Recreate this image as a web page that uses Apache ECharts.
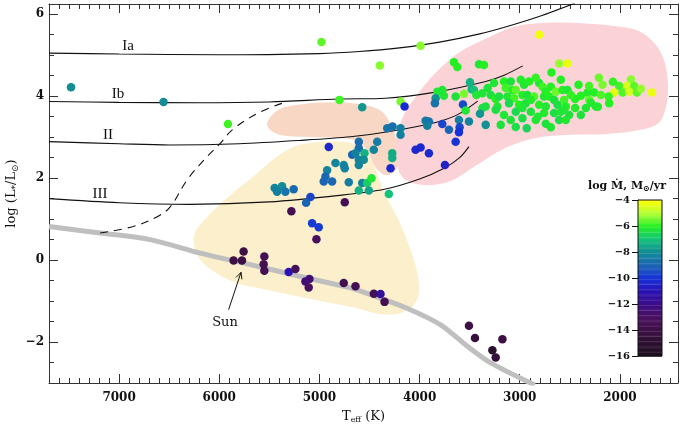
<!DOCTYPE html>
<html><head><meta charset="utf-8">
<script src="https://cdn.jsdelivr.net/npm/echarts@6/dist/echarts.min.js"></script>
<style>html,body{margin:0;padding:0;background:#fff}#c{width:690px;height:426px}</style>
</head><body><div id="c"></div>
<script>
// ---- data: [Teff (K), log L/Lsun, log Mdot] ----
const stars = [
 [7480,4.22,-8.0],[6557,3.86,-8.0],[5913,3.32,-5.8],[4980,5.32,-5.6],[4800,3.91,-5.8],
 [3990,5.23,-5.3],[4397,4.75,-5.3],[4573,3.73,-7.8],[4190,3.87,-5.4],[4150,3.75,-10.2],
 [4907,2.76,-10.3],[4607,2.89,-8.8],[4423,2.89,-8.4],[4607,2.73,-8.8],[4673,2.57,-9.0],
 [4550,2.61,-7.3],[4607,2.45,-8.2],[4557,2.45,-8.0],[4607,2.32,-8.2],[4457,2.69,-8.2],
 [4640,2.61,-8.3],[4273,2.61,-7.4],[4273,2.49,-7.4],[4290,2.24,-10.3],[4040,2.69,-10.3],
 [3990,2.75,-10.3],[4840,2.37,-8.2],[4757,2.32,-8.2],[4747,2.24,-8.3],[4923,2.19,-8.2],
 [4940,2.04,-8.9],[4957,1.92,-9.0],[4873,1.92,-9.0],[4707,1.90,-8.4],[4573,1.88,-8.2],
 [4523,1.88,-6.8],[4480,2.00,-6.2],[4607,1.70,-7.3],[4507,1.70,-7.6],[4307,1.61,-7.0],
 [5447,1.76,-8.2],[5373,1.80,-8.0],[5423,1.67,-8.3],[5340,1.67,-8.6],[5257,1.73,-8.8],
 [5090,1.54,-9.6],[5133,1.40,-9.0],[4747,1.41,-13.5],[5280,1.19,-13.5],[5073,0.90,-9.8],
 [5007,0.80,-9.8],[5030,0.51,-13.0],[5757,0.21,-14.0],[5857,-0.01,-14.0],[5773,-0.01,-14.0],
 [5550,0.09,-13.5],[5557,-0.10,-13.5],[5550,-0.26,-13.5],[5307,-0.29,-11.0],[5240,-0.22,-13.3],
 [5100,-0.46,-12.5],[5140,-0.52,-12.5],[5107,-0.67,-13.0],[4757,-0.56,-13.5],[4640,-0.64,-13.5],
 [4457,-0.82,-13.5],[4390,-0.83,-11.5],[4350,-1.02,-13.5],
 [3507,-1.60,-14.0],[3447,-1.90,-14.5],[3173,-1.93,-14.0],[3273,-2.20,-15.0],[3240,-2.38,-14.5],
 [4323,3.22,-8.6],[4270,3.26,-8.7],[4190,3.22,-8.3],[4190,3.06,-8.3],
 [3657,4.83,-6.0],[3623,4.71,-6.0],[3407,4.78,-6.2],[3357,4.76,-6.0],[3497,4.34,-7.3],
 [3480,4.17,-7.3],[3457,4.15,-7.0],[3823,4.11,-6.2],[3773,4.15,-6.2],[3757,4.01,-6.2],
 [3640,3.99,-6.3],[3557,4.06,-5.4],[3433,4.03,-6.2],[3373,4.07,-6.2],[3840,3.95,-7.9],
 [3847,3.83,-8.6],[3567,3.80,-9.5],[3540,3.65,-6.2],[3373,3.71,-6.4],[3397,3.57,-7.8],
 [3940,3.40,-8.4],[3907,3.38,-8.6],[3923,3.28,-8.3],[3773,3.32,-9.6],[3707,3.18,-9.0],
 [3607,3.42,-8.3],[3600,3.24,-9.6],[3607,3.12,-10.0],[3507,3.38,-8.2],[3340,3.30,-7.9],
 [3907,2.61,-10.3],[3640,2.89,-9.9],[3747,2.32,-10.5],
 [3257,4.32,-6.2],[3157,4.36,-6.0],[3090,4.36,-6.3],[3140,4.20,-5.8],[3073,4.15,-6.0],
 [3040,4.15,-5.6],[2957,4.28,-6.2],[2907,4.36,-6.0],[2807,4.32,-6.2],[2773,4.23,-5.8],
 [2690,4.23,-6.0],[2640,4.11,-5.5],[2573,4.15,-6.0],[2523,4.15,-6.2],[3290,4.03,-6.3],
 [3240,3.93,-6.0],[3207,3.99,-6.4],[3123,3.99,-6.2],[3057,3.95,-5.8],[2973,4.03,-6.0],
 [2923,4.03,-6.3],[2857,3.99,-5.7],[2757,3.99,-6.2],[2707,3.99,-6.0],[2657,3.91,-6.3],
 [2557,3.91,-5.8],[3340,3.75,-6.4],[3223,3.75,-6.2],[3107,3.83,-6.5],[3007,3.79,-6.0],
 [2940,3.83,-6.3],[2807,3.79,-6.0],[2740,3.75,-6.2],[2623,3.79,-6.4],[2540,3.75,-6.0],
 [3157,3.54,-6.2],[3040,3.62,-6.5],[2973,3.71,-6.2],[2890,3.62,-6.3],[2757,3.59,-6.1],
 [2657,3.59,-6.4],[2590,3.62,-6.2],[2507,3.54,-6.3],[3090,3.42,-6.3],[2973,3.46,-6.4],
 [2840,3.42,-6.2],[2607,3.42,-6.4],[2930,3.22,-6.6],[2690,3.24,-6.2],[2557,3.67,-6.2],
 [2807,5.50,-4.2],[2607,4.80,-5.2],[2523,4.80,-4.3],[2683,4.58,-6.0],
 [1890,4.41,-5.3],[2413,4.28,-6.0],[2173,4.28,-5.4],[2007,4.25,-5.8],[1930,4.25,-4.5],
 [1857,4.25,-5.6],[2057,4.09,-4.4],[1973,4.09,-5.7],[1907,4.11,-4.6],[1830,4.09,-5.6],
 [1680,4.09,-4.3],[2323,4.09,-6.1],[2257,4.09,-6.0],[2113,3.99,-5.9],[2107,3.83,-6.0],
 [2307,3.91,-5.6],[2290,3.84,-6.1],[2240,3.75,-6.2],[2447,3.93,-6.0],[2447,3.71,-6.1],
 [2540,3.42,-6.2],[2307,4.25,-5.8],
 [3190,3.30,-6.3],[3040,3.25,-6.4],[2820,3.50,-6.2],[2740,3.33,-6.3],[2390,3.54,-6.3],
 [2340,3.71,-6.2],[2220,3.74,-6.1],[2990,4.40,-6.1],[2840,4.45,-5.9],[2590,4.40,-6.0],
 [2490,4.03,-5.9],[2390,4.01,-6.0],[3320,4.20,-6.3],[3240,3.67,-6.4],[2890,3.91,-6.1],
 [2740,4.11,-6.0],[2190,4.03,-5.7],[1790,4.18,-5.2],[2070,4.35,-5.9],[2210,4.45,-5.5]
];
// luminosity-class tracks
const trackIa  = [[7700,5.05],[7000,5.03],[6000,5.01],[5000,5.04],[4600,5.09],[4200,5.18],[3800,5.32],[3400,5.52],[3100,5.72],[2800,5.95],[2450,6.27]];
const trackIb  = [[7700,3.87],[7000,3.85],[6200,3.84],[5500,3.86],[4800,3.93],[4340,3.95],[3840,4.10],[3340,4.36],[3150,4.52],[2970,4.74]];
const trackII  = [[7700,2.89],[7000,2.84],[6500,2.81],[5800,2.84],[5200,2.92],[4690,3.01],[4300,3.14],[3840,3.36],[3620,3.55],[3420,3.88]];
const trackIII = [[7700,1.50],[7000,1.40],[6300,1.36],[5500,1.42],[4800,1.58],[4350,1.73],[4000,1.98],[3750,2.25],[3600,2.50],[3507,2.77]];
const dashedTrack = [[7190,0.66],[6860,0.82],[6620,1.06],[6490,1.30],[6320,1.96],[6150,2.45],[5990,2.85],[5860,3.20],[5600,3.60],[5320,3.87]];
const mainSeq = [[7700,0.82],[7190,0.66],[6690,0.50],[6190,0.17],[5690,-0.11],[5190,-0.40],[4690,-0.68],[4460,-0.87],[4120,-1.18],[3790,-1.58],[3520,-2.11],[3290,-2.51],[2850,-3.05]];
// regions
const regionHot = [[6250,0.62],[6150,0.98],[5910,1.54],[5640,2.08],[5440,2.50],[5240,2.78],[4990,2.88],[4790,2.89],[4640,2.83],[4510,2.57],[4440,2.20],[4340,1.59],[4210,0.98],[4090,0.25],[4020,-0.36],[4010,-0.85],[4110,-1.21],[4340,-1.33],[4690,-1.14],[5190,-0.90],[5540,-0.72],[5860,-0.53],[6120,-0.16],[6230,0.18]];
const regionWarm = [[5520,3.37],[5400,3.68],[5190,3.80],[4890,3.85],[4640,3.82],[4410,3.68],[4310,3.42],[4240,3.01],[4200,2.52],[4230,2.22],[4330,2.07],[4440,2.26],[4510,2.62],[4610,2.89],[4790,2.98],[5190,3.01],[5400,3.06],[5500,3.20]];
const regionNone = [[4210,2.20],[4240,2.81],[4180,3.42],[4040,3.98],[3840,4.57],[3610,5.06],[3340,5.40],[3060,5.69],[2740,5.79],[2490,5.79],[2040,5.71],[1810,5.59],[1640,5.25],[1550,4.81],[1520,4.23],[1540,3.74],[1610,3.35],[1790,3.18],[2130,3.08],[2490,3.06],[2840,2.98],[3140,2.74],[3440,2.30],[3690,1.93],[3960,1.83],[4140,1.96]];
const sunArrow = [[5907,-1.21],[5783,-0.30]];
// tick values
const xMajor = [2000,3000,4000,5000,6000,7000];
const yMajor = [-2,0,2,4,6];
const cbMajor = [-16,-14,-12,-10,-8,-6,-4];
const xMinor = []; for (let t = 1500; t <= 7700; t += 100) xMinor.push(t);
const yMinor = []; for (let v = -2.5; v <= 6.01; v += 0.5) yMinor.push(+v.toFixed(1));
const cbBands = []; for (let v = -16; v < -4 - 1e-9; v += 0.2) cbBands.push([0.5, +(v + 0.1).toFixed(2), +(v + 0.1).toFixed(2)]);
const cmap = ['#1c0c20','#2c1030','#3d1045','#4a1060','#3c0c88','#2a12b4','#1630d8','#1a64b4','#128c96','#14c27a','#22f022','#b4ff34','#ffff00'];

const minus = v => (v < 0 ? '\u2212' + (-v) : '' + v);
const plain = v => '' + v;
const serifB = {fontFamily:'DejaVu Serif', fontWeight:'bold', fontSize:12, color:'#111'};
const AX = '#333';
const noZero = {onZero:false};

function blob(points, color){
  return {type:'custom', xAxisIndex:0, yAxisIndex:0, z:1, silent:true, data:[[4000,2]],
    renderItem:(p, api)=>({type:'polygon', shape:{points: points.map(q=>api.coord(q)), smooth:0.35},
      style:{fill:color}})};
}
function track(data, extra){
  return Object.assign({type:'line', xAxisIndex:0, yAxisIndex:0, data, showSymbol:false, symbol:'none', smooth:0.3, z:2,
    lineStyle:{color:'#111', width:1.1}, silent:true}, extra||{});
}
function xAx(pos, major, extra){
  return Object.assign({gridIndex:0, type:'value', inverse:true, min:1420, max:7700, position:pos,
    axisLine:{show:major, onZero:false, lineStyle:{color:AX, width:1}},
    axisTick:{show:true, inside:true, length:major?9:5, customValues:major?xMajor:xMinor, lineStyle:{color:AX}},
    axisLabel:{show:false}, splitLine:{show:false}}, extra||{});
}
function yAx(pos, major, extra){
  return Object.assign({gridIndex:0, type:'value', min:-3, max:6.25, position:pos,
    axisLine:{show:major, onZero:false, lineStyle:{color:AX, width:1}},
    axisTick:{show:true, inside:true, length:major?9:5, customValues:major?yMajor:yMinor, lineStyle:{color:AX}},
    axisLabel:{show:false}, splitLine:{show:false}}, extra||{});
}

const chart = echarts.init(document.getElementById('c'), null, {renderer:'canvas'});
const option = {
  animation:false,
  backgroundColor:'#fff',
  grid:[{left:49, right:12, top:4, bottom:43, containLabel:false, outerBoundsMode:'none'},
        {left:638, top:200, width:24, height:156, containLabel:false, outerBoundsMode:'none'}],
  xAxis:[
    xAx('bottom', true, {
     axisLabel:Object.assign({show:true, margin:9, interval:0, customValues:xMajor, formatter:plain}, serifB),
     name:'{a|T}{s|eff}{a| (K)}', nameLocation:'middle', nameGap:26, nameMoveOverlap:false,
     nameTextStyle:{rich:{a:{fontFamily:'DejaVu Serif', fontSize:13, color:'#111'},
                          s:{fontFamily:'DejaVu Serif', fontSize:8, color:'#111', padding:[7,0,0,0]}}}}),
    xAx('bottom', false),
    xAx('top', true),
    xAx('top', false),
    {gridIndex:1, type:'value', min:0, max:1, show:false, axisLine:noZero}
  ],
  yAxis:[
    yAx('left', true, {
     axisLabel:Object.assign({show:true, margin:5, interval:0, customValues:yMajor, formatter:minus}, serifB),
     name:'{a|log (L}{s|*}{a|/L}{s|\u2299}{a|)}', nameLocation:'middle', nameGap:29, nameRotate:90, nameMoveOverlap:false,
     nameTextStyle:{rich:{a:{fontFamily:'DejaVu Serif', fontSize:13, color:'#111'},
                          s:{fontFamily:'DejaVu Serif', fontSize:9, color:'#111', padding:[7,0,0,0]}}}}),
    yAx('left', false),
    yAx('right', true),
    yAx('right', false),
    {gridIndex:1, type:'value', min:-16, max:-4, position:'left',
     axisLine:{show:true, onZero:false, lineStyle:{color:'#111'}},
     axisTick:{show:true, inside:false, length:6, customValues:cbMajor, lineStyle:{color:'#111'}},
     axisLabel:{show:true, margin:8, interval:0, hideOverlap:false, customValues:cbMajor, formatter:minus,
       fontFamily:'DejaVu Serif', fontWeight:'bold', fontSize:10, color:'#111'},
     splitLine:{show:false}}
  ],
  visualMap:[{type:'continuous', show:false, min:-16, max:-4, dimension:2, seriesIndex:[10,11],
    inRange:{color:cmap}}],
  series:[
    blob(regionHot, '#fcefcb'),
    blob(regionWarm, '#f8d8c5'),
    blob(regionNone, '#fbd3d7'),
    track(trackIa), track(trackIb), track(trackII), track(trackIII),
    track(dashedTrack, {lineStyle:{color:'#111', width:1.1, type:[8,6]}, smooth:0.4}),
    track(mainSeq, {lineStyle:{color:'#bfbfbf', width:5}, z:1.5}),
    {type:'custom', xAxisIndex:0, yAxisIndex:0, z:3, silent:true, data:[[5800,-1]],
     renderItem:(p, api)=>{
       const a = api.coord(sunArrow[0]), b = api.coord(sunArrow[1]);
       const ang = Math.atan2(b[1]-a[1], b[0]-a[0]);
       const L = 7, w = 0.45;
       const h1 = [b[0]-L*Math.cos(ang-w), b[1]-L*Math.sin(ang-w)];
       const h2 = [b[0]-L*Math.cos(ang+w), b[1]-L*Math.sin(ang+w)];
       return {type:'group', children:[
         {type:'line', shape:{x1:a[0], y1:a[1], x2:b[0], y2:b[1]}, style:{stroke:'#111', lineWidth:1}},
         {type:'polyline', shape:{points:[h1,b,h2]}, style:{stroke:'#111', lineWidth:1, fill:null}}
       ]};
     }},
    {type:'scatter', xAxisIndex:0, yAxisIndex:0, z:5, data:stars, symbolSize:8.5, itemStyle:{opacity:1}},
    {type:'custom', xAxisIndex:4, yAxisIndex:4, z:3, silent:true, data:cbBands,
     renderItem:(p, api)=>{
       const m = api.value(1);
       const t = api.coord([0, m+0.1]), b = api.coord([1, m-0.1]);
       const children = [{type:'rect', shape:{x:t[0], y:t[1], width:b[0]-t[0], height:b[1]-t[1]+0.6},
         style:{fill:api.visual('color')}}];
       if (p.dataIndex % 2 === 1) children.push({type:'rect', shape:{x:t[0], y:t[1]+0.8, width:b[0]-t[0], height:1},
         style:{fill:'rgba(255,255,255,0.16)'}});
       return {type:'group', children};
     }},
    {type:'custom', xAxisIndex:4, yAxisIndex:4, z:4, silent:true, data:[[0.5,-10,-10]],
     renderItem:(p, api)=>{
       const t = api.coord([0,-4]), b = api.coord([1,-16]);
       return {type:'rect', shape:{x:t[0], y:t[1], width:b[0]-t[0], height:b[1]-t[1]},
         style:{fill:null, stroke:'#111', lineWidth:1}};
     }}
  ],
  graphic:[
    {type:'text', x:128, y:46, style:{text:'Ia', font:'15px "Liberation Serif"', fill:'#111', align:'center', verticalAlign:'middle'}},
    {type:'text', x:118, y:94, style:{text:'Ib', font:'15px "Liberation Serif"', fill:'#111', align:'center', verticalAlign:'middle'}},
    {type:'text', x:108, y:135, style:{text:'II', font:'15px "Liberation Serif"', fill:'#111', align:'center', verticalAlign:'middle'}},
    {type:'text', x:100, y:194, style:{text:'III', font:'15px "Liberation Serif"', fill:'#111', align:'center', verticalAlign:'middle'}},
    {type:'text', x:587, y:42, style:{text:'no corona', font:'16px "DejaVu Sans Mono"', fill:'#222', align:'center', verticalAlign:'middle'}},
    {type:'text', x:324, y:122, style:{text:'warm/hybid', font:'16px "DejaVu Sans Mono"', fill:'#222', align:'center', verticalAlign:'middle'}},
    {type:'text', x:362, y:263, style:{text:'hot corona', font:'16px "DejaVu Sans Mono"', fill:'#222', align:'center', verticalAlign:'middle'}},
    {type:'text', x:225, y:323, style:{text:'Sun', font:'13px "DejaVu Serif"', fill:'#111', align:'center', verticalAlign:'middle'}},
    {type:'text', x:627, y:186, style:{text:'{a|log \u1E40, M}{s|\u2299}{a|/yr}', align:'center', verticalAlign:'middle',
      rich:{a:{fontFamily:'DejaVu Serif', fontWeight:'bold', fontSize:11, fill:'#111'},
            s:{fontFamily:'DejaVu Serif', fontWeight:'bold', fontSize:8, fill:'#111', padding:[6,0,0,0]}}}}
  ]
};
chart.setOption(option);
</script>
</body></html>
